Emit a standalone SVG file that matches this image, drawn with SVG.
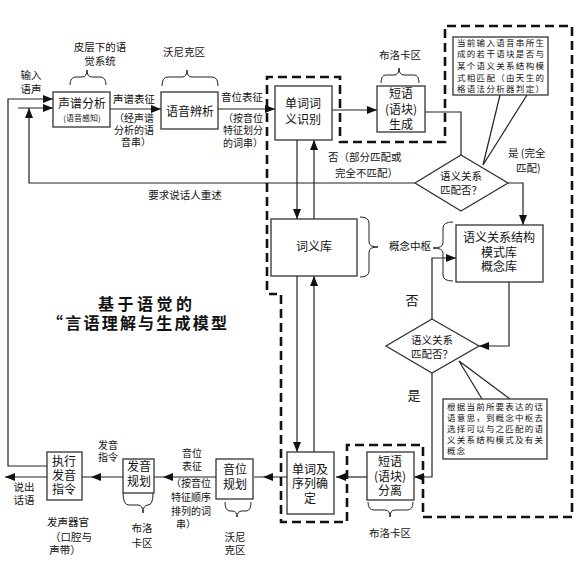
<svg xmlns="http://www.w3.org/2000/svg" width="576" height="564" viewBox="0 0 576 564">
<style>
text{font-family:"Noto Sans CJK SC","Noto Sans",sans-serif;fill:#111;}
.b{fill:#fff;stroke:#333;stroke-width:1.3}
.t{font-size:12px;text-anchor:middle}
.m{font-size:10.5px;text-anchor:middle}
.k{font-size:10px;text-anchor:middle}
.s{font-size:10.5px}
.c{font-size:8.5px}
.ln{fill:none;stroke:#222;stroke-width:1.2}
.br{fill:none;stroke:#222;stroke-width:1}
.d{fill:none;stroke:#111;stroke-width:2.6;stroke-dasharray:9,5}
.ttl{font-size:16px;font-weight:bold}
</style>
<defs>
<marker id="a" markerUnits="userSpaceOnUse" markerWidth="10" markerHeight="8" refX="10" refY="4" orient="auto" viewBox="0 0 10 8"><path d="M0,0 L10,4 L0,8 z" fill="#111"/></marker>
<marker id="g" markerUnits="userSpaceOnUse" markerWidth="20" markerHeight="8" refX="19" refY="4" orient="auto" viewBox="0 0 20 8"><path d="M0,0 L10,4 L0,8 z" fill="#111"/></marker>
</defs>
<rect width="576" height="564" fill="#fff"/>

<g id="boundary">
<path class="d" d="M267,290 L267,77 L340,77 L340,142 L445,142 L445,26 L572,26 L572,517 L423,517 L423,445 L347,445 L347,522 L281,522 L281,294 L269,294"/>
</g>

<g id="connectors">
<path class="ln" d="M47,466 L8,466 L8,99 L53,99" marker-end="url(#a)"/>
<path class="ln" d="M18,108 L53,108" marker-end="url(#a)"/>
<path class="ln" d="M415,183 L29,183 L29,108" marker-end="url(#a)"/>
<path class="ln" d="M110,109 L161,109" marker-end="url(#a)"/>
<path class="ln" d="M218,109 L275,109" marker-end="url(#a)"/>
<path class="ln" d="M332,110 L377,110" marker-end="url(#a)"/>
<path class="ln" d="M425,112 L461,112 L461,155"/>
<path class="ln" d="M508,183 L523,183 L523,225" marker-end="url(#a)"/>
<path class="ln" d="M297,140 L297,219" marker-end="url(#a)"/>
<path class="ln" d="M314,219 L314,140" marker-end="url(#a)"/>
<path class="ln" d="M297,276 L297,452" marker-end="url(#a)"/>
<path class="ln" d="M314,452 L314,276" marker-end="url(#a)"/>
<path class="ln" d="M432,319 L432,258 L456,258" marker-end="url(#a)"/>
<path class="ln" d="M509,282 L509,346 L479,346" marker-end="url(#a)"/>
<path class="ln" d="M432,373 L432,477 L414,477" marker-end="url(#a)"/>
<path class="ln" d="M367,477 L336,477" marker-end="url(#a)"/>
<path class="ln" d="M287,477 L254,477" marker-end="url(#g)"/>
<path class="ln" d="M216,477 L154,477" marker-end="url(#g)"/>
<path class="ln" d="M123,477 L82,477" marker-end="url(#g)"/>
<path class="ln" d="M47,477 L5,477" marker-end="url(#a)"/>
<path class="ln" d="M500,95 L483,165 L527,95" stroke="#333"/>
<path class="ln" d="M482,399 L459,361 L510,399" stroke="#333"/>
</g>

<g id="braces">
<path class="br" d="M70,85 Q70,77 76,77 L82,77 Q87,77 87,70 Q87,77 92,77 L100,77 Q106,77 106,85"/>
<path class="br" d="M162,86 Q162,77 168,77 L182,77 Q187,77 187,70 Q187,77 192,77 L212,77 Q218,77 218,86"/>
<path class="br" d="M381,83 Q381,75 386,75 L394,75 Q399,75 399,68 Q399,75 404,75 L414,75 Q419,75 419,83"/>
<path class="br" d="M360,217 Q369,217 369,223 L369,242 Q369,247 378,247 Q369,247 369,252 L369,271 Q369,277 360,277"/>
<path class="br" d="M453,222 Q443,222 443,228 L443,243 Q443,248 433,248 Q443,248 443,253 L443,275 Q443,281 453,281"/>
<path class="br" d="M123,493 Q123,505 129,505 L138,505 Q143,505 143,513 Q143,505 148,505 L148,505 Q153,505 153,493"/>
<path class="br" d="M225,502 Q225,511 230,511 L232,511 Q237,511 237,517 Q237,511 242,511 L246,511 Q251,511 251,502"/>
<path class="br" d="M368,502 Q368,510 374,510 L385,510 Q390,510 390,517 Q390,510 395,510 L407,510 Q413,510 413,502"/>
</g>

<g id="n-shengpu"><rect class="b" x="53" y="92" width="57" height="35"/>
<text class="t" x="82" y="108">声谱分析</text><text x="82" y="121" style="font-size:8px;text-anchor:middle">(语音感知)</text></g>

<g id="n-bianxi"><rect class="b" x="161" y="92" width="57" height="37"/>
<text class="t" x="190" y="116">语音辨析</text></g>

<g id="n-ciyi"><rect class="b" x="275" y="86" width="57" height="54"/>
<text class="t" x="303" y="108">单词词</text><text class="t" x="303" y="124">义识别</text></g>

<g id="n-duanyu1"><rect class="b" x="377" y="86" width="48" height="46"/>
<text class="t" x="401" y="98">短语</text><text class="t" x="401" y="114">(语块)</text><text class="t" x="401" y="129">生成</text></g>

<g id="n-callout1"><rect class="b" x="453" y="37" width="95" height="58"/>
<text class="c" x="457" y="46" textLength="87" lengthAdjust="spacing">当前输入语音串所生</text>
<text class="c" x="457" y="57" textLength="87" lengthAdjust="spacing">成的若干语块是否与</text>
<text class="c" x="457" y="69" textLength="87" lengthAdjust="spacing">某个语义关系结构模</text>
<text class="c" x="457" y="81" textLength="87" lengthAdjust="spacing">式相匹配（由天生的</text>
<text class="c" x="457" y="92" textLength="87" lengthAdjust="spacing">格语法分析器判定）</text></g>

<g id="n-d1"><polygon class="b" points="461,155 508,183 461,211 415,183"/>
<text class="m" x="461" y="180">语义关系</text><text class="m" x="461" y="194">匹配否？</text></g>

<g id="n-ciyiku"><rect class="b" x="271" y="219" width="86" height="57"/>
<text class="t" x="314" y="251">词义库</text></g>

<g id="n-yuyi"><rect class="b" x="456" y="225" width="87" height="57"/>
<text class="t" x="499" y="242">语义关系结构</text><text class="t" x="499" y="257">模式库</text><text class="t" x="499" y="271">概念库</text></g>

<g id="n-d2"><polygon class="b" points="432,319 479,346 432,373 386,346"/>
<text class="m" x="432" y="344">语义关系</text><text class="m" x="432" y="358">匹配否？</text></g>

<g id="n-callout2"><rect class="b" x="443" y="399" width="104" height="60"/>
<text class="c" x="447" y="410" textLength="96" lengthAdjust="spacing">根据当前所要表达的话</text>
<text class="c" x="447" y="421" textLength="96" lengthAdjust="spacing">语意思，到概念中枢去</text>
<text class="c" x="447" y="432" textLength="96" lengthAdjust="spacing">选择可以与之匹配的语</text>
<text class="c" x="447" y="443" textLength="96" lengthAdjust="spacing">义关系结构模式及有关</text>
<text class="c" x="447" y="454" style="letter-spacing:1px">概念</text></g>

<g id="n-xulie"><rect class="b" x="287" y="452" width="47" height="62"/>
<text class="t" x="310" y="474">单词及</text><text class="t" x="310" y="488">序列确</text><text class="t" x="310" y="503">定</text></g>

<g id="n-duanyu2"><rect class="b" x="367" y="452" width="47" height="48"/>
<text class="t" x="390" y="466">短语</text><text class="t" x="390" y="481">(语块)</text><text class="t" x="390" y="495">分离</text></g>

<g id="n-yinwei"><rect class="b" x="216" y="459" width="37" height="40"/>
<text class="t" x="235" y="474">音位</text><text class="t" x="235" y="489">规划</text></g>

<g id="n-fayin"><rect class="b" x="123" y="459" width="31" height="34"/>
<text class="t" x="139" y="471">发音</text><text class="t" x="139" y="486">规划</text></g>

<g id="n-zhixing"><rect class="b" x="47" y="452" width="35" height="48"/>
<text class="t" x="64" y="466">执行</text><text class="t" x="64" y="480">发音</text><text class="t" x="64" y="494">指令</text></g>

<g id="labels">
<text class="m" x="31" y="79">输入</text><text class="m" x="31" y="93">语声</text>
<text class="m" x="100" y="51">皮层下的语</text><text class="m" x="100" y="65">觉系统</text>
<text class="m" x="184" y="56">沃尼克区</text>
<text class="m" x="134" y="103">声谱表征</text>
<text class="k" x="134" y="122">（经声谱</text><text class="k" x="134" y="134">分析的语</text><text class="k" x="136" y="146">音串）</text>
<text class="m" x="242" y="101">音位表征</text>
<text class="k" x="243" y="122">（按音位</text><text class="k" x="243" y="134">特征划分</text><text class="k" x="243" y="147">的词串）</text>
<text class="m" x="400" y="59">布洛卡区</text>
<text class="s" x="328" y="161">否（部分匹配或</text>
<text class="s" x="335" y="177">完全不匹配）</text>
<text class="s" x="508" y="157">是 (完全</text>
<text class="s" x="516" y="172">匹配)</text>
<text class="s" x="185" y="199" text-anchor="middle">要求说话人重述</text>
<text class="m" x="410" y="250">概念中枢</text>
<text x="412" y="305" style="font-size:13px;text-anchor:middle">否</text>
<text x="414" y="400" style="font-size:13px;text-anchor:middle">是</text>
<text class="ttl" x="98" y="310" textLength="94" lengthAdjust="spacing">基于语觉的</text>
<text class="ttl" x="47" y="329" textLength="180" lengthAdjust="spacing">“言语理解与生成模型</text>
<text class="m" x="390" y="537">布洛卡区</text>
<text class="m" x="235" y="541">沃尼</text><text class="m" x="235" y="554">克区</text>
<text class="k" x="192" y="457">音位</text><text class="k" x="192" y="470">表征</text>
<text class="k" x="191" y="487">（按音位</text><text class="k" x="191" y="501">特征顺序</text><text class="k" x="191" y="515">排列的词</text><text class="k" x="186" y="528">串）</text>
<text class="m" x="142" y="532">布洛</text><text class="m" x="142" y="547">卡区</text>
<text class="k" x="108" y="449">发音</text><text class="k" x="108" y="461">指令</text>
<text class="m" x="24" y="491">说出</text><text class="m" x="24" y="504">话语</text>
<text class="m" x="68" y="526">发声器官</text><text class="m" x="71" y="541">（口腔与</text><text class="m" x="65" y="554">声带）</text>
</g>
</svg>
